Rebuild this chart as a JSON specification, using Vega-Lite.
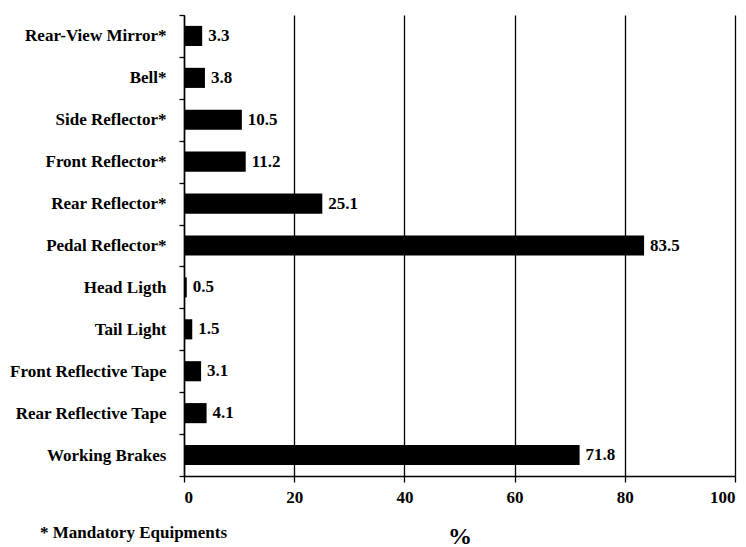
{
  "$schema": "https://vega.github.io/schema/vega-lite/v6.json",
  "width": 551,
  "height": 461,
  "autosize": {"type": "none"},
  "padding": {"left": 184, "top": 15, "right": 11, "bottom": 71},
  "background": "white",
  "title": {
    "text": "* Mandatory Equipments",
    "orient": "bottom",
    "anchor": "start",
    "frame": "group",
    "dx": -144,
    "offset": -23,
    "font": "Liberation Serif",
    "fontWeight": "bold",
    "fontSize": 17,
    "color": "black"
  },
  "data": {
    "values": [
      {"item": "Rear-View Mirror*", "pct": 3.3},
      {"item": "Bell*", "pct": 3.8},
      {"item": "Side Reflector*", "pct": 10.5},
      {"item": "Front Reflector*", "pct": 11.2},
      {"item": "Rear Reflector*", "pct": 25.1},
      {"item": "Pedal Reflector*", "pct": 83.5},
      {"item": "Head Ligth", "pct": 0.5},
      {"item": "Tail Light", "pct": 1.5},
      {"item": "Front Reflective Tape", "pct": 3.1},
      {"item": "Rear Reflective Tape", "pct": 4.1},
      {"item": "Working Brakes", "pct": 71.8}
    ]
  },
  "encoding": {
    "y": {
      "field": "item",
      "type": "nominal",
      "sort": null,
      "scale": {"paddingInner": 0, "paddingOuter": 0},
      "axis": {
        "title": null,
        "tickBand": "extent",
        "tickSize": 5,
        "tickColor": "black",
        "tickWidth": 1.3,
        "domainColor": "black",
        "domainWidth": 1.5,
        "labelPadding": 13,
        "labelFont": "Liberation Serif",
        "labelFontWeight": "bold",
        "labelFontSize": 17,
        "labelColor": "black",
        "labelLimit": 300
      }
    },
    "x": {
      "field": "pct",
      "type": "quantitative",
      "scale": {"domain": [0, 100], "nice": false},
      "axis": {
        "title": "%",
        "values": [0, 20, 40, 60, 80, 100],
        "grid": true,
        "gridColor": "black",
        "gridWidth": 1.3,
        "gridOpacity": 1,
        "tickSize": 6,
        "tickColor": "black",
        "tickWidth": 1.3,
        "domainColor": "black",
        "domainWidth": 1.5,
        "labelPadding": 7,
        "labelFont": "Liberation Serif",
        "labelFontWeight": "bold",
        "labelFontSize": 17,
        "labelColor": "black",
        "titleFont": "Liberation Serif",
        "titleFontWeight": "bold",
        "titleFontSize": 24,
        "titleColor": "black",
        "titlePadding": 19
      }
    }
  },
  "layer": [
    {
      "mark": {"type": "bar", "color": "black", "height": {"band": 0.48}}
    },
    {
      "mark": {
        "type": "text",
        "align": "left",
        "baseline": "middle",
        "dx": 6,
        "font": "Liberation Serif",
        "fontWeight": "bold",
        "fontSize": 17,
        "color": "black"
      },
      "encoding": {
        "text": {"field": "pct", "type": "quantitative", "format": ".1f"}
      }
    }
  ],
  "config": {"view": {"stroke": null}}
}
